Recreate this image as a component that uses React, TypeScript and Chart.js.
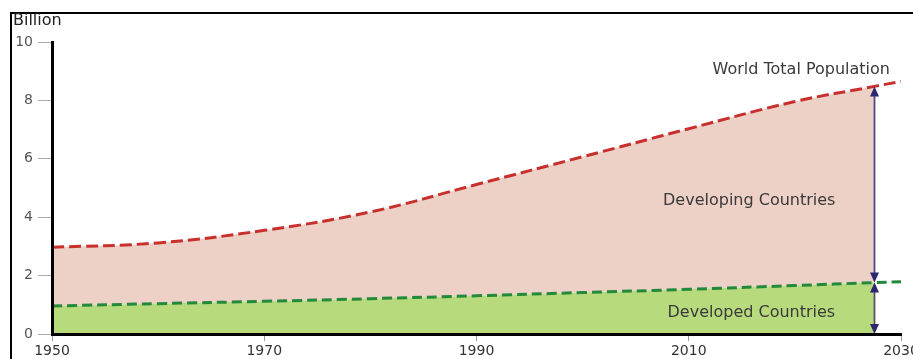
import React, { useEffect, useRef } from "react";
import { Chart, registerables } from "chart.js";

Chart.register(...registerables);

// ---- data ----
const years = [1950, 1960, 1970, 1980, 1990, 2000, 2010, 2020, 2027.5, 2030];
const worldTotal = [2.97, 3.12, 3.55, 4.18, 5.12, 6.07, 7.03, 7.96, 8.48, 8.65];
const developed = [0.96, 1.04, 1.12, 1.21, 1.31, 1.42, 1.53, 1.66, 1.76, 1.79];
const arrowYear = 2027.5;
const xTicks = [1950, 1970, 1990, 2010, 2030];
const yTicks = [0, 2, 4, 6, 8, 10];
const unitLabel = "Billion";
const worldLabel = "World Total Population";
const developingLabel = "Developing Countries";
const developedLabel = "Developed Countries";

const FONT = "'DejaVu Sans', 'Liberation Sans', sans-serif";

const toPoints = (vals: number[], maxYear = Infinity) =>
  years
    .map((yr, i) => ({ x: yr, y: vals[i] }))
    .filter((p) => p.x <= maxYear);

const overlayPlugin = {
  id: "overlay",
  afterDatasetsDraw(chart: any) {
    const { ctx } = chart;
    const xs = chart.scales.x;
    const ys = chart.scales.y;
    const i = years.indexOf(arrowYear);
    const ax = Math.round(xs.getPixelForValue(arrowYear)) + 0.5;
    const yT = ys.getPixelForValue(worldTotal[i]);
    const yM = ys.getPixelForValue(developed[i]);
    const yB = ys.getPixelForValue(0);
    ctx.save();
    ctx.lineWidth = 1.8;
    ctx.strokeStyle = "#4d4886";
    ctx.beginPath();
    ctx.moveTo(ax, yT + 4);
    ctx.lineTo(ax, yM - 4);
    ctx.stroke();
    ctx.strokeStyle = "#55536a";
    ctx.beginPath();
    ctx.moveTo(ax, yM + 4);
    ctx.lineTo(ax, yB - 4);
    ctx.stroke();
    const head = (tipY: number, dir: number) => {
      // dir -1 => points up, 1 => points down
      ctx.beginPath();
      ctx.moveTo(ax, tipY);
      ctx.lineTo(ax - 4.5, tipY - dir * 10);
      ctx.lineTo(ax + 4.5, tipY - dir * 10);
      ctx.closePath();
      ctx.fill();
    };
    ctx.fillStyle = "#2c2870";
    head(yT, -1);
    head(yM, 1);
    head(yM, -1);
    head(yB, 1);

    ctx.fillStyle = "#3a3a3a";
    ctx.font = `16px ${FONT}`;
    ctx.textAlign = "center";
    ctx.textBaseline = "middle";
    ctx.fillText(worldLabel, xs.getPixelForValue(2020.6), ys.getPixelForValue(9.06));
    ctx.fillText(developingLabel, xs.getPixelForValue(2015.7), ys.getPixelForValue(4.57));
    ctx.fillText(developedLabel, xs.getPixelForValue(2015.9), ys.getPixelForValue(0.73));
    ctx.restore();
  },
  afterDraw(chart: any) {
    const { ctx, width, height } = chart;
    ctx.save();
    ctx.strokeStyle = "#000";
    ctx.lineWidth = 2;
    ctx.beginPath();
    ctx.moveTo(11, height + 2);
    ctx.lineTo(11, 13);
    ctx.lineTo(width + 2, 13);
    ctx.stroke();
    ctx.fillStyle = "#222";
    ctx.font = `16px ${FONT}`;
    ctx.textAlign = "left";
    ctx.textBaseline = "middle";
    ctx.fillText(unitLabel, 13, 21);
    ctx.restore();
  },
};

export default function App() {
  const ref = useRef<HTMLCanvasElement>(null);

  useEffect(() => {
    if (!ref.current) return;
    const chart = new Chart(ref.current, {
      type: "line",
      data: {
        datasets: [
          {
            label: "Developed fill",
            data: toPoints(developed, arrowYear),
            fill: "origin",
            backgroundColor: "#b7da7d",
            borderColor: "rgba(0,0,0,0)",
            borderWidth: 0,
            pointRadius: 0,
            tension: 0.4,
            order: 1,
          },
          {
            label: "Developing fill",
            data: toPoints(worldTotal, arrowYear),
            fill: "-1",
            backgroundColor: "#edd0c6",
            borderColor: "rgba(0,0,0,0)",
            borderWidth: 0,
            pointRadius: 0,
            tension: 0.4,
            order: 1,
          },
          {
            label: "Developed Countries",
            data: toPoints(developed),
            fill: false,
            borderColor: "#23893b",
            borderWidth: 3,
            borderDash: [10, 5],
            pointRadius: 0,
            tension: 0.4,
            order: 0,
          },
          {
            label: "World Total Population",
            data: toPoints(worldTotal),
            fill: false,
            borderColor: "#c8302d",
            borderWidth: 3,
            borderDash: [12, 5],
            pointRadius: 0,
            tension: 0.4,
            order: 0,
          },
        ],
      },
      options: {
        responsive: false,
        animation: false,
        layout: { padding: { top: 42, right: 12, left: 0, bottom: 0 } },
        plugins: {
          legend: { display: false },
          tooltip: { enabled: false },
        },
        scales: {
          x: {
            type: "linear",
            min: 1950,
            max: 2030,
            afterBuildTicks: (s: any) => {
              s.ticks = xTicks.map((v) => ({ value: v }));
            },
            ticks: {
              callback: (v: any) => String(v),
              color: "#333",
              font: { family: FONT, size: 14 },
              padding: 2,
              maxRotation: 0,
              autoSkip: false,
            },
            grid: { drawOnChartArea: false, drawTicks: true, tickLength: 7, color: "#999" },
            border: { display: true, color: "#000", width: 3, z: 1 },
            afterFit: (s: any) => {
              s.height = 25;
              s.paddingLeft = 0;
              s.paddingRight = 0;
            },
          },
          y: {
            type: "linear",
            min: 0,
            max: 10,
            afterBuildTicks: (s: any) => {
              s.ticks = yTicks.map((v) => ({ value: v }));
            },
            ticks: {
              color: "#555",
              font: { family: FONT, size: 14 },
              padding: 5,
            },
            grid: { drawOnChartArea: false, drawTicks: true, tickLength: 14, color: "#aaa" },
            border: { display: true, color: "#000", width: 3, z: 1 },
            afterFit: (s: any) => {
              s.width = 52;
              s.paddingTop = 0;
              s.paddingBottom = 0;
            },
          },
        },
      },
      plugins: [overlayPlugin],
    } as any);
    return () => chart.destroy();
  }, []);

  return (
    <div style={{ position: "absolute", left: 0, top: 0, width: 913, height: 359, background: "#fff" }}>
      <canvas ref={ref} width={913} height={359} style={{ width: 913, height: 359, display: "block" }} />
    </div>
  );
}
